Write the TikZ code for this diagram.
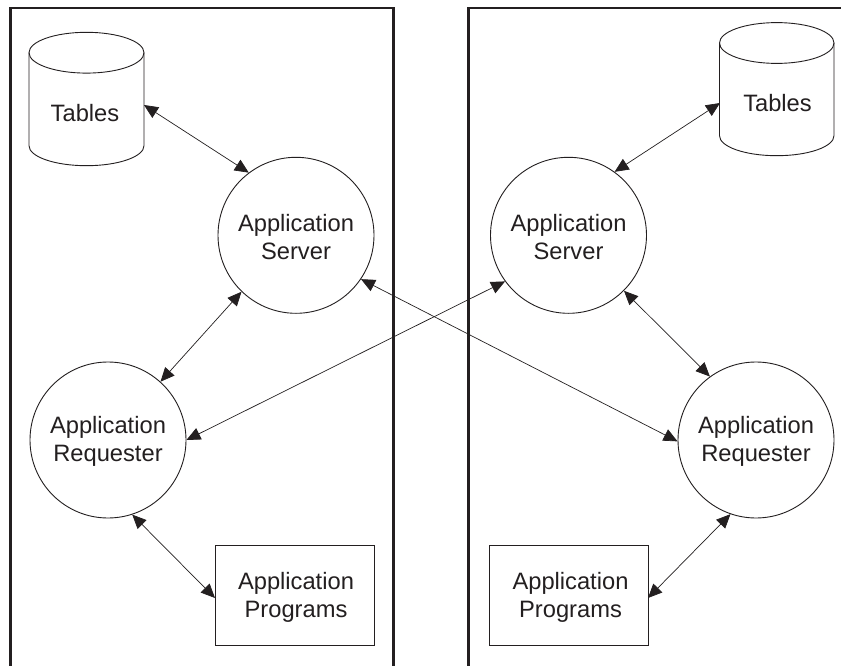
\documentclass[tikz,border=0pt]{standalone}
\usepackage{fontspec}
\setmainfont{Liberation Sans}
\usetikzlibrary{arrows.meta}
\definecolor{ink}{HTML}{231F20}
\newcommand{\padA}{\rule{0pt}{20.1pt}}
\newcommand{\padB}{\rule{0pt}{21.9pt}}
\tikzset{
 x=1pt,y=-1pt,
 frame/.style={draw=ink,line width=2.8pt},
 thin line/.style={draw=ink,line width=0.9pt},
 bub/.style={circle,draw=ink,line width=0.9pt,minimum size=156pt,inner sep=0pt,align=center,text=ink,font=\fontsize{23.7}{28}\selectfont},
 prog/.style={rectangle,draw=ink,line width=0.9pt,minimum width=159pt,minimum height=100pt,inner sep=0pt,align=center,text=ink,font=\fontsize{23.7}{28}\selectfont},
 lbl/.style={inner sep=0pt,text=ink,font=\fontsize{23.7}{28}\selectfont},
 conn/.style={draw=ink,line width=0.7pt,{Triangle[length=14pt,width=12.5pt]}-{Triangle[length=14pt,width=12.5pt]},shorten >=0pt,shorten <=0pt},
}
\begin{document}
\begin{tikzpicture}
\useasboundingbox (0,0) rectangle (841,666);
\fill[white] (0,0) rectangle (841,666);
\draw[frame] (10.5,666) -- (10.5,8) -- (393.7,8) -- (393.7,666);
\draw[frame] (468.3,666) -- (468.3,8) -- (841,8);
% left cylinder
\draw[thin line] (29,52.7) -- (29,145.7) arc[start angle=180,end angle=0,x radius=57.5,y radius=20] -- (144,52.7);
\draw[thin line] (86.5,52.7) ellipse[x radius=57.5,y radius=20.4];
\node[lbl] (t1) at (85,113) {Tables};
\coordinate (c1) at (144,105);
% right cylinder
\draw[thin line] (719.5,43) -- (719.5,135.7) arc[start angle=180,end angle=0,x radius=57.25,y radius=20] -- (834,43);
\draw[thin line] (776.75,43) ellipse[x radius=57.25,y radius=20.4];
\node[lbl] (t2) at (777.5,103) {Tables};
\coordinate (c2) at (720,103);
\node[bub] (s1) at (296,235.3) {\padA Application\\Server};
\node[bub] (r1) at (108,440) {\padA Application\\Requester};
\node[prog] (p1) at (294.5,595) {\padB\hspace*{3pt}Application\\\hspace*{3pt}Programs};
\node[bub] (s2) at (568.5,235.3) {\padA Application\\Server};
\node[bub] (r2) at (756,440) {\padA Application\\Requester};
\node[prog] (p2) at (568.5,595) {\padB\hspace*{4pt}Application\\\hspace*{4pt}Programs};
\coordinate (p1a) at (215,598);
\coordinate (p2a) at (648,598);
\draw[conn] (c1) -- (s1.127.7);
\draw[conn] (c2) -- (s2.54.8);
\draw[conn] (s1.226) -- (r1.48);
\draw[conn] (s2.315) -- (r2.126.7);
\draw[conn] (s1.326.5) -- (r2.181);
\draw[conn] (s2.216) -- (r1.0);
\draw[conn] (r1.288) -- (p1a);
\draw[conn] (r2.251) -- (p2a);
\end{tikzpicture}
\end{document}
